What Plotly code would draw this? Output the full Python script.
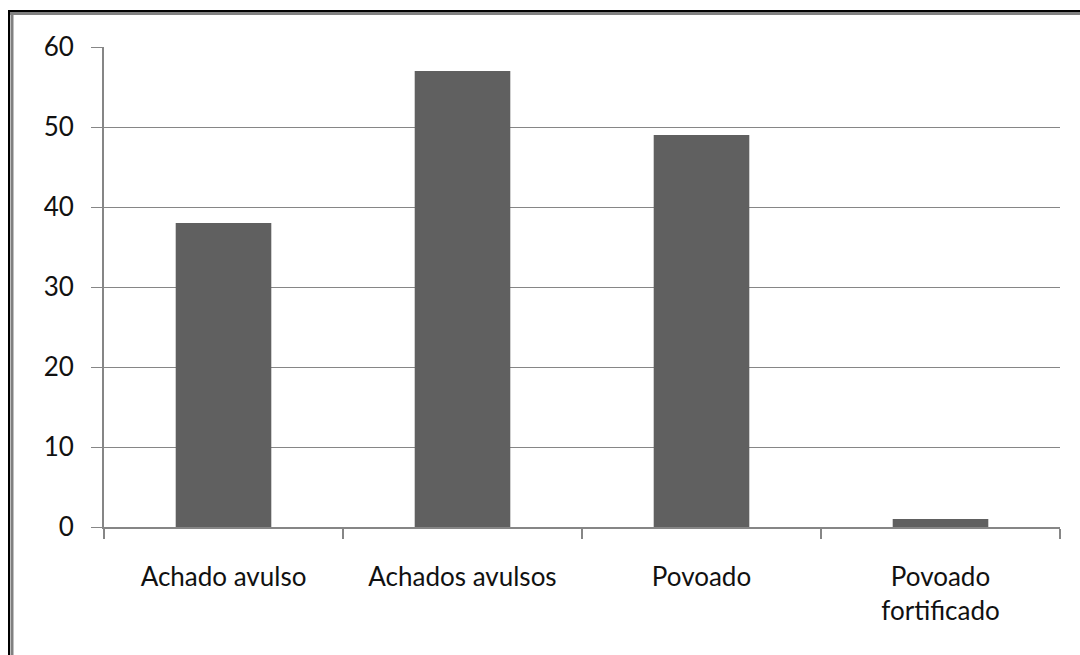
import plotly.graph_objects as go

categories = ["Achado avulso", "Achados avulsos", "Povoado", "Povoado<br>fortificado"]
values = [38, 57, 49, 1]
y_ticks = [0, 10, 20, 30, 40, 50, 60]

W, H = 1080, 655
L, R, T, B = 104, 20, 47, 128
pw, ph = W - L - R, H - T - B

def px(x):
    return (x - L) / pw

def py(y):
    return (H - B - y) / ph

fig = go.Figure(go.Bar(
    x=categories, y=values,
    marker=dict(color="#606060", line=dict(width=0)),
    width=0.4,
))

grid = "#868686"
fig.update_layout(
    width=W, height=H,
    margin=dict(l=L, r=R, t=T, b=B),
    paper_bgcolor="white", plot_bgcolor="white",
    showlegend=False,
    font=dict(family="Lato, Carlito, sans-serif", size=26, color="#111111"),
    bargap=0.6,
    xaxis=dict(
        showgrid=False, showline=True, linecolor=grid, linewidth=2,
        ticks="outside", tickson="boundaries", ticklen=10, tickwidth=2, tickcolor=grid,
        ticklabelstandoff=26, tickfont=dict(size=26),
    ),
    yaxis=dict(
        range=[0, 60], tickvals=y_ticks, showgrid=True, gridcolor=grid, gridwidth=1,
        showline=True, linecolor=grid, linewidth=2,
        ticks="outside", ticklen=11, tickwidth=1, tickcolor=grid,
        ticklabelstandoff=12, zeroline=False, tickfont=dict(size=26),
    ),
    shapes=[
        # outer frame (top + left), dark line and grey inner line
        dict(type="line", xref="paper", yref="paper", x0=px(8), x1=px(1080), y0=py(11), y1=py(11),
             line=dict(color="#000000", width=2)),
        dict(type="line", xref="paper", yref="paper", x0=px(10), x1=px(1080), y0=py(13.5), y1=py(13.5),
             line=dict(color="#808080", width=3)),
        dict(type="line", xref="paper", yref="paper", x0=px(9), x1=px(9), y0=py(10), y1=py(655),
             line=dict(color="#000000", width=2)),
        dict(type="line", xref="paper", yref="paper", x0=px(12), x1=px(12), y0=py(12), y1=py(655),
             line=dict(color="#808080", width=3)),
    ],
)

fig.write_html("out.html")
